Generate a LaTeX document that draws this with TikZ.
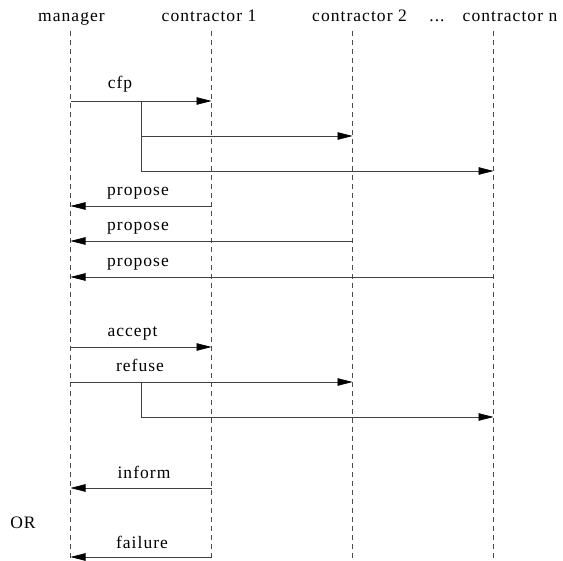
\documentclass[tikz,border=0pt]{standalone}
\usepackage{fontspec}
\setmainfont{Liberation Serif}[LetterSpace=6]
\usetikzlibrary{arrows.meta,calc}

\begin{document}
\begin{tikzpicture}[x=1pt, y=-1pt,
  role/.style={anchor=base, font=\fontsize{17.5}{20}\selectfont, inner sep=0pt},
  msg/.style={anchor=base, font=\fontsize{17.5}{20}\selectfont, inner sep=0pt},
  lifeline/.style={black!70, line width=0.6pt, dash pattern=on 5pt off 4pt},
  signal/.style={black!75, line width=0.6pt, -{Triangle[length=15pt, width=7.5pt, black]}}]
  \useasboundingbox (0,0) rectangle (563,561);
  % roles
  \node[role] (manager) at (71.5,21.5) {manager};
  \node[role] (contr1) at (209,21.5) {contractor 1};
  \node[role] (contr2) at (359.5,21.5) {contractor 2};
  \node[role] (dots) at (437,21.5) {...};
  \node[role] (contrn) at (510,21.5) {contractor n};

  % lifelines
  \foreach \l/\x in {mgr/70.5, ca/211.5, cb/352.5, cn/493.5} {
    \coordinate (\l-top) at (\x,31);
    \coordinate (\l-bot) at (\x,558);
    \foreach \r/\y in {1/101, 2/136, 3/171, 4/206, 5/241, 6/277, 7/347, 8/382, 9/417, 10/488, 11/557}
      \coordinate (\l-\r) at (\x,\y);
    \draw[lifeline] (\l-top) -- (\l-bot);
  }
  \coordinate (fork1) at ($(mgr-1)!.5!(ca-1)$);
  \coordinate (fork2) at ($(mgr-8)!.5!(ca-8)$);

  % messages
  \node[msg] (cfp) at (120,89) {cfp};
  \node[msg] (propose1) at (138,196) {propose};
  \node[msg] (propose2) at (138,231) {propose};
  \node[msg] (propose3) at (138,267) {propose};
  \node[msg] (accept) at (132.5,337) {accept};
  \node[msg] (refuse) at (140,372) {refuse};
  \node[msg] (inform) at (144,479) {inform};
  \node[msg] (or) at (23,529) {OR};
  \node[msg] (failure) at (142,548) {failure};

  % connections
  \draw[signal] (mgr-1) -- (ca-1);
  \draw[signal] (fork1) |- (cb-2);
  \draw[signal] (fork1) |- (cn-3);
  \draw[signal] (ca-4) -- (mgr-4);
  \draw[signal] (cb-5) -- (mgr-5);
  \draw[signal] (cn-6) -- (mgr-6);
  \draw[signal] (mgr-7) -- (ca-7);
  \draw[signal] (mgr-8) -- (cb-8);
  \draw[signal] (fork2) |- (cn-9);
  \draw[signal] (ca-10) -- (mgr-10);
  \draw[signal] (ca-11) -- (mgr-11);
\end{tikzpicture}
\end{document}
